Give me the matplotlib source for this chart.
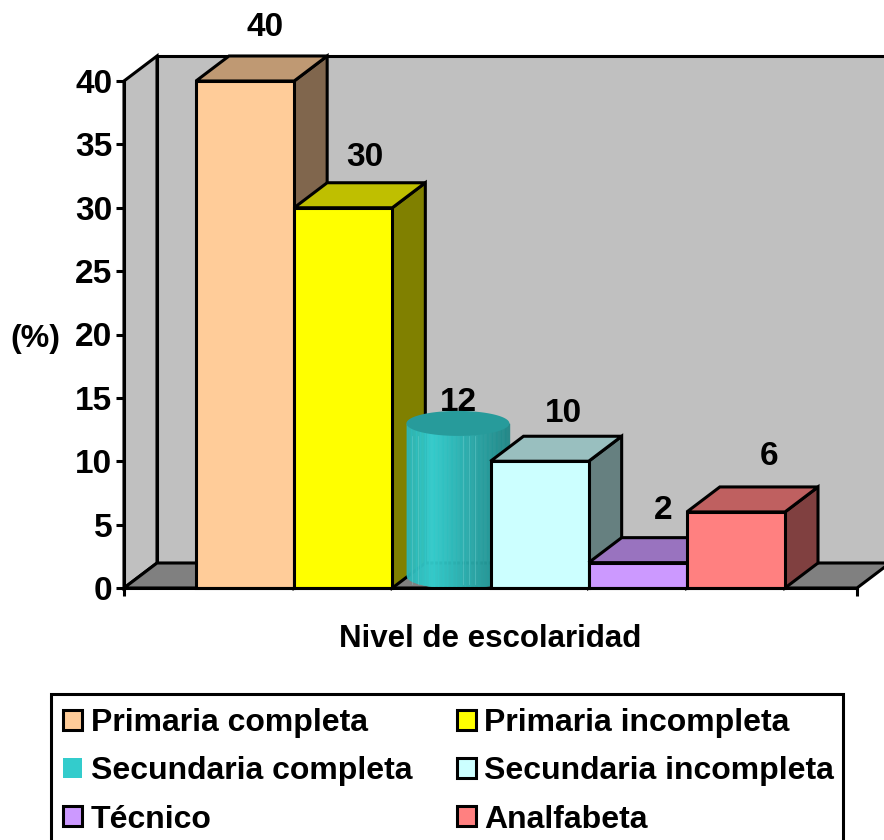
import matplotlib
matplotlib.use("Agg")
import matplotlib.pyplot as plt
import numpy as np
from matplotlib.colors import to_rgb
from matplotlib.patches import Patch, Polygon, Rectangle

plt.rcParams['font.family'] = ['Liberation Sans', 'DejaVu Sans']
plt.rcParams['font.weight'] = 'bold'

categories = ["Primaria completa", "Primaria incompleta", "Secundaria completa",
              "Secundaria incompleta", "Técnico", "Analfabeta"]
values = [40, 30, 12, 10, 2, 6]
colors = ["#FFCC99", "#FFFF00", "#33CCCC", "#CCFFFF", "#CC99FF", "#FF8080"]
y_ticks = [0, 5, 10, 15, 20, 25, 30, 35, 40]

# pixel nudges for the value labels, measured from each bar's top
label_dx = [20, 22, 17, 24, 25, 33]
label_dy = [54, 50, 33, 48, 52, 55]

# legend fills rows first, matplotlib fills columns first
legend_order = [0, 2, 4, 1, 3, 5]

W, H = 884, 840
LW = 2.2
FS = 24
DX = 33 / 98.17   # depth of the 3d box, in data units
DY = 25 / 12.675


def shade(color, factor):
    return tuple(c * factor for c in to_rgb(color))


def poly(ax, pts, color, z, lw=LW):
    ax.add_patch(Polygon(pts, closed=True, facecolor=color, edgecolor='black',
                         linewidth=lw, joinstyle='miter', clip_on=False, zorder=z))


def draw_box(ax, i, v, color, z):
    x0, x1 = i - 0.5, i + 0.5
    poly(ax, [(x1, 0), (x1 + DX, DY), (x1 + DX, v + DY), (x1, v)], shade(color, 0.5), z)
    poly(ax, [(x0, v), (x0 + DX, v + DY), (x1 + DX, v + DY), (x1, v)], shade(color, 0.75), z)
    poly(ax, [(x0, 0), (x0, v), (x1, v), (x1, 0)], color, z)


def draw_cylinder(ax, i, v, color, z):
    cx = i + DX / 2
    rx = 51.5 / 98.17
    ry = DY / 2
    edges = np.linspace(cx - rx, cx + rx, 81)
    for a, b in zip(edges[:-1], edges[1:]):
        pos = ((a + b) / 2 - cx + rx) / (2 * rx)
        f = np.interp(pos, [0, 0.25, 1], [0.88, 1.0, 0.66])
        xs = np.linspace(a, b, 4)
        t = np.clip((xs - cx) / rx, -1, 1)
        arc = ry * np.sqrt(1 - t ** 2)
        ax.fill_between(xs, ry - arc, v + ry, color=shade(color, f), linewidth=0.4,
                        clip_on=False, zorder=z)
    # faint facet lines on the cylinder wall
    for pos in [0.05, 0.11, 0.55, 0.61, 0.67]:
        xp = cx - rx + 2 * rx * pos
        ax.plot([xp, xp], [0.3, v], color='#6fd0d0', lw=0.5, alpha=0.6, clip_on=False, zorder=z)
    t = np.linspace(0, 2 * np.pi, 120)
    ax.fill(cx + rx * np.cos(t), v + ry + ry * np.sin(t), color=shade(color, 0.76),
            linewidth=0, clip_on=False, zorder=z + 0.1)


fig = plt.figure(figsize=(W / 100, H / 100), dpi=100)
ax = fig.add_axes([124 / W, 1 - 588 / H, 733 / W, 507 / H])
ax.patch.set_visible(False)

xmin, xmax = -0.5 - 72 / 98.17, 5.5 + 72 / 98.17
ax.set_xlim(xmin, xmax)
ax.set_ylim(0, 40)

# walls and floor
poly(ax, [(xmin + DX, DY), (xmin + DX, 40 + DY), (xmax + DX, 40 + DY), (xmax + DX, DY)], '#C0C0C0', 1)
poly(ax, [(xmin, 0), (xmin, 40), (xmin + DX, 40 + DY), (xmin + DX, DY)], '#C0C0C0', 1)
poly(ax, [(xmin, 0), (xmin + DX, DY), (xmax + DX, DY), (xmax, 0)], '#808080', 1.5)

for i, (v, c) in enumerate(zip(values, colors)):
    z = 2 + i
    if i == 2:
        draw_cylinder(ax, i, v, c, z)
    else:
        draw_box(ax, i, v, c, z)
    ax.annotate(str(v), (i, v), xytext=(label_dx[i], label_dy[i]), textcoords='offset pixels',
                ha='center', va='center', fontsize=FS, fontweight='bold',
                annotation_clip=False, zorder=z - 0.5)

for side in ['top', 'right']:
    ax.spines[side].set_visible(False)
for side in ['left', 'bottom']:
    ax.spines[side].set_linewidth(LW)
    ax.spines[side].set_zorder(20)

ax.set_yticks(y_ticks)
ax.set_xticks([xmin, xmax])
ax.set_xticklabels([])
ax.tick_params(axis='both', width=LW, length=5.5, labelsize=FS, pad=3)
for tick in ax.get_yticklabels():
    tick.set_fontweight('bold')

fig.text(35 / W, 1 - 339 / H, "(%)", ha='center', va='center', fontsize=23, fontweight='bold')
fig.text(490 / W, 1 - 639 / H, "Nivel de escolaridad", ha='center', va='center',
         fontsize=22.5, fontweight='bold')

# legend frame runs off the bottom of the figure, so it is drawn separately
fig.add_artist(Rectangle((51 / W, 1 - 850 / H), 792 / W, 156 / H, transform=fig.transFigure,
                         facecolor='white', edgecolor='black', linewidth=LW))

handles = [Patch(facecolor=c, edgecolor='none' if i == 2 else 'black', linewidth=LW)
           for i, c in enumerate(colors)]
leg = fig.legend([handles[i] for i in legend_order], [categories[i] for i in legend_order],
                 ncols=2, loc='upper left',
                 bbox_to_anchor=(51 / W, 1 - 696 / H), bbox_transform=fig.transFigure,
                 fontsize=23, frameon=False,
                 borderaxespad=0, borderpad=0.38, handlelength=0.6, handleheight=0.6,
                 handletextpad=0.27, labelspacing=0.57, columnspacing=1.38)
for t in leg.get_texts():
    t.set_fontweight('bold')

fig.savefig("out.png", dpi=100)
